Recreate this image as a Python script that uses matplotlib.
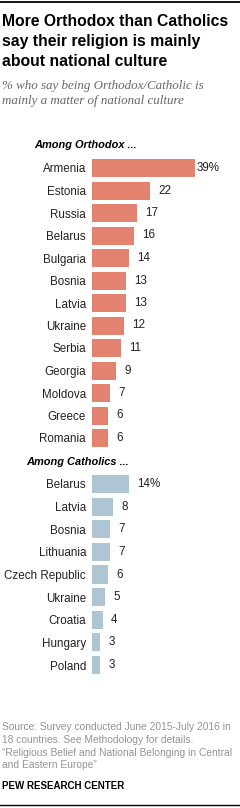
import matplotlib
matplotlib.use('Agg')
import matplotlib.pyplot as plt

# data
orthodox_countries = ['Armenia', 'Estonia', 'Russia', 'Belarus', 'Bulgaria', 'Bosnia', 'Latvia',
                      'Ukraine', 'Serbia', 'Georgia', 'Moldova', 'Greece', 'Romania']
orthodox_values = [39, 22, 17, 16, 14, 13, 13, 12, 11, 9, 7, 6, 6]

catholic_countries = ['Belarus', 'Latvia', 'Bosnia', 'Lithuania', 'Czech Republic', 'Ukraine',
                      'Croatia', 'Hungary', 'Poland']
catholic_values = [14, 8, 7, 7, 6, 5, 4, 3, 3]

ORTHO_COLOR = '#e3826f'
CATH_COLOR = '#aec5d3'
W, H = 240, 808

plt.rcParams['font.family'] = ['Liberation Sans', 'DejaVu Sans']

fig = plt.figure(figsize=(W / 100, H / 100), dpi=100)


def px_axes(x0, y0, x1, y1):
    # pixel box (top-left origin) -> figure axes
    return fig.add_axes([x0 / W, 1 - y1 / H, (x1 - x0) / W, (y1 - y0) / H])


px_per_unit = 2.64
bar_left = 92


def draw_group(top, spacing, countries, values, color):
    n = len(countries)
    ax = px_axes(bar_left, top - spacing / 2, W, top + spacing * (n - 0.5))
    ys = range(n)
    ax.barh(ys, values, height=0.8, color=color)
    ax.set_xlim(0, (W - bar_left) / px_per_unit)
    ax.set_ylim(n - 0.5, -0.5)
    ax.set_yticks(list(ys))
    ax.set_yticklabels(countries, fontsize=8.4, color='#222222')
    ax.tick_params(axis='y', length=0, pad=4.3)
    ax.set_xticks([])
    for s in ax.spines.values():
        s.set_visible(False)
    for i, v in enumerate(values):
        label = f'{v}%' if i == 0 else str(v)
        off = 6 if not (i == 0 and v > 30) else 1.2
        ax.annotate(label, (v, i), xytext=(off, 0), textcoords='offset points',
                    va='center', ha='left', fontsize=8.4, color='#222222')
    return ax


draw_group(168, 22.5, orthodox_countries, orthodox_values, ORTHO_COLOR)
draw_group(484, 22.625, catholic_countries, catholic_values, CATH_COLOR)

# rules top and bottom
fig.add_artist(plt.Line2D([0, 1], [1 - 1.5 / H, 1 - 1.5 / H], color='black', lw=1.3))
fig.add_artist(plt.Line2D([0, 1], [1 - 805 / H, 1 - 805 / H], color='black', lw=1.0))


def ftext(x, y, s, **kw):
    fig.text(x / W, 1 - y / H, s, **kw)


# title
title_kw = dict(fontsize=11.3, fontweight='bold', va='center')
ftext(2, 21, 'More Orthodox than Catholics', **title_kw)
ftext(2, 41.5, 'say their religion is mainly', **title_kw)
ftext(2, 62, 'about national culture', **title_kw)

# subtitle
sub_kw = dict(fontsize=9.4, style='italic', color='#666666', va='center',
              family=['Liberation Serif', 'DejaVu Serif'])
ftext(2, 86, '% who say being Orthodox/Catholic is', **sub_kw)
ftext(2, 101, 'mainly a matter of national culture', **sub_kw)

# group headers
ftext(34, 145, 'Among Orthodox ...', fontsize=7.9, fontweight='bold', style='italic', va='center')
ftext(26, 462, 'Among Catholics ...', fontsize=7.9, fontweight='bold', style='italic', va='center')

# footer
foot_kw = dict(fontsize=7.4, color='#949494', va='center')
ftext(2, 727, 'Source: Survey conducted June 2015-July 2016 in', **foot_kw)
ftext(2, 740, '18 countries. See Methodology for details.', **foot_kw)
ftext(2, 752.5, '\u201cReligious Belief and National Belonging in Central', **foot_kw)
ftext(2, 765, 'and Eastern Europe\u201d', **foot_kw)
ftext(2, 786, 'PEW RESEARCH CENTER', fontsize=7.0, fontweight='bold', va='center')

fig.savefig('out.png', dpi=100)
